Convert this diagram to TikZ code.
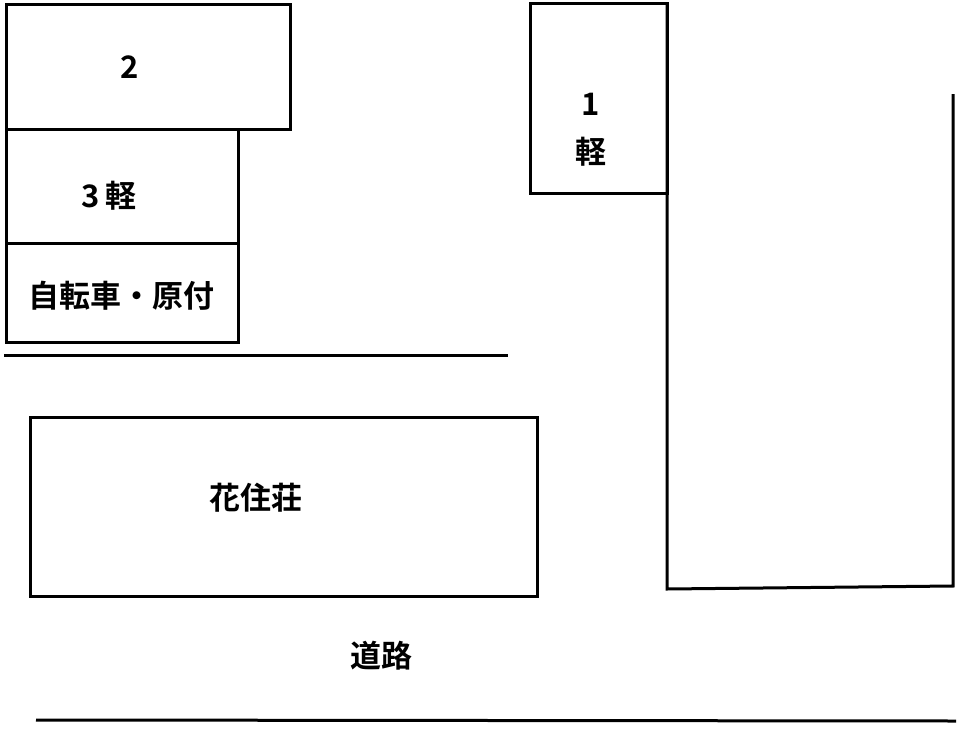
\documentclass[tikz,border=0pt]{standalone}
\usepackage{fontspec}
\newfontfamily\cjk{Noto Sans CJK JP Bold}
\begin{document}
\begin{tikzpicture}[x=1pt,y=-1pt,
  wall/.style={line width=3pt},
  lbl/.style={font=\cjk\fontsize{31}{36}\selectfont, align=center}]
\useasboundingbox[fill=white] (0,0) rectangle (969,736);
\draw[wall] (6,4) rectangle (290,129);
\node[lbl] (t2) at (130,67) {2};
\draw[wall] (6,129) rectangle (238,243);
\node[lbl] (t3) at (109,196) {3\,軽};
\draw[wall] (6,243) rectangle (238,342);
\node[lbl] (tb) at (121,296) {自転車・原付};
\draw[wall] (4,355) -- (508,355);
\draw[wall] (30,417) rectangle (537,596);
\node[lbl] (th) at (256,498) {花住荘};
\draw[wall] (530,3) rectangle (667,193);
\node[lbl] (t1a) at (591,104) {1};
\node[lbl] (t1b) at (591,152) {軽};
\draw[wall] (667,3) -- (667,589) -- (953,586) -- (953,94);
\node[lbl] (tr) at (381,656) {道路};
\draw[wall] (36,720) -- (956,721);
\end{tikzpicture}
\end{document}
